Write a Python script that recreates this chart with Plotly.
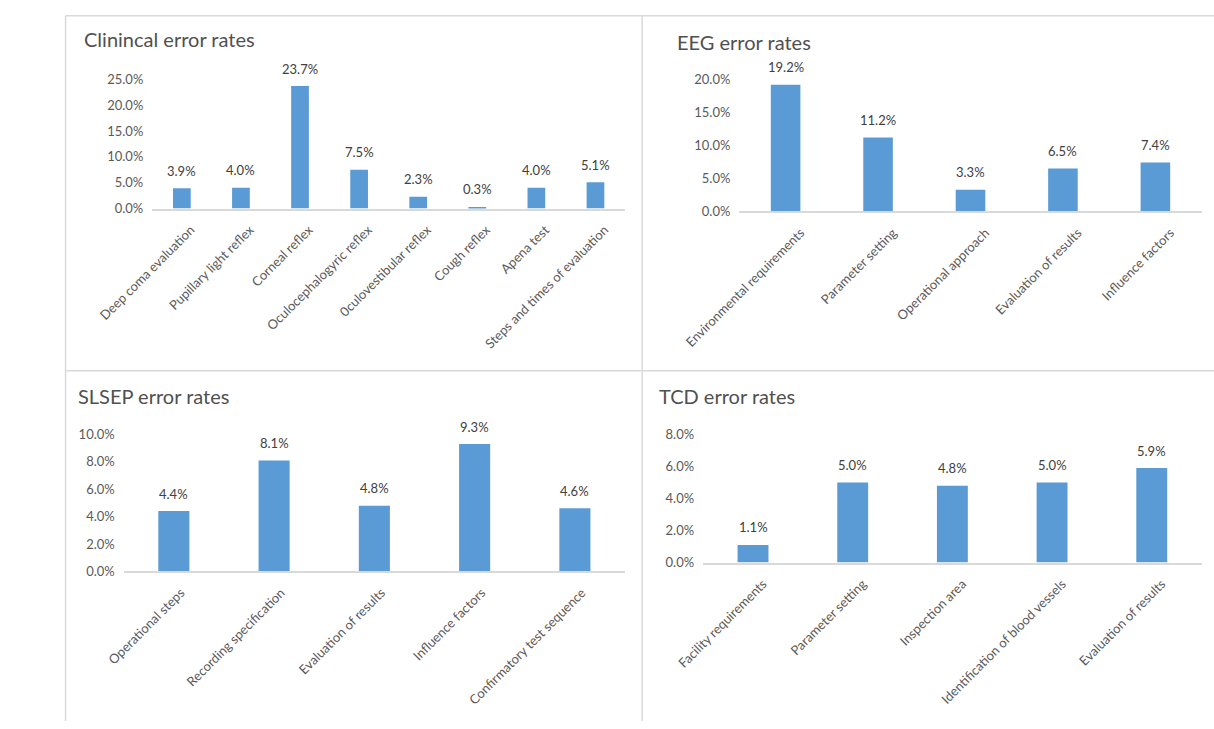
import plotly.graph_objects as go

W, H = 1214, 729

# ---------------- data ----------------
clin_cats = ["Deep coma evaluation", "Pupillary light reflex", "Corneal reflex",
             "Oculocephalogyric reflex", "0culovestibular reflex", "Cough reflex",
             "Apena test", "Steps and times of evaluation"]
clin_vals = [3.9, 4.0, 23.7, 7.5, 2.3, 0.3, 4.0, 5.1]

eeg_cats = ["Environmental requirements", "Parameter setting", "Operational approach",
            "Evaluation of results", "Influence factors"]
eeg_vals = [19.2, 11.2, 3.3, 6.5, 7.4]

slsep_cats = ["Operational steps", "Recording specification", "Evaluation of results",
              "Influence factors", "Confirmatory test sequence"]
slsep_vals = [4.4, 8.1, 4.8, 9.3, 4.6]

tcd_cats = ["Facility requirements", "Parameter setting", "Inspection area",
            "Identification of blood vessels", "Evaluation of results"]
tcd_vals = [1.1, 5.0, 4.8, 5.0, 5.9]

titles = ["Clinincal error rates", "EEG error rates", "SLSEP error rates", "TCD error rates"]

# ---------------- layout helpers ----------------
def px_x(v):
    return v / W

def px_y(v):
    return 1 - v / H

FONT = "Lato, 'Open Sans', sans-serif"
BAR = "#5b9bd5"
TICK_C = "#595959"
LBL_C = "#404040"

panels = [
    dict(cats=clin_cats, vals=clin_vals, x0=100, x1=596, yt=73, yb=205, ymax=25, dt=5,
         tx=26, ty=32, shift=9, bw=0.30),
    dict(cats=eeg_cats, vals=eeg_vals, x0=716, x1=1201, yt=73, yb=208, ymax=20, dt=5,
         tx=648, ty=35, shift=15, bw=0.32),
    dict(cats=slsep_cats, vals=slsep_vals, x0=70, x1=596, yt=436, yb=576, ymax=10, dt=2,
         tx=20, ty=397, shift=7, bw=0.31),
    dict(cats=tcd_cats, vals=tcd_vals, x0=678, x1=1201, yt=436, yb=567, ymax=8, dt=2,
         tx=630, ty=397, shift=10, bw=0.31),
]

fig = go.Figure()
annotations = []
layout_axes = {}

for i, p in enumerate(panels):
    n = i + 1
    xa = "x" if n == 1 else f"x{n}"
    ya = "y" if n == 1 else f"y{n}"
    xkey = "xaxis" if n == 1 else f"xaxis{n}"
    ykey = "yaxis" if n == 1 else f"yaxis{n}"

    fig.add_trace(go.Bar(
        x=p["cats"], y=p["vals"], xaxis=xa, yaxis=ya,
        marker=dict(color=BAR, line=dict(width=0)),
        width=p["bw"], showlegend=False, hoverinfo="x+y",
    ))

    layout_axes[xkey] = dict(
        domain=[px_x(p["x0"]), px_x(p["x1"])],
        anchor=ya, type="category",
        showline=True, linecolor="#d9d9d9", linewidth=1.5,
        showgrid=False, zeroline=False, ticks="",
        tickangle=-45, ticklabelshift=p["shift"], ticklabelstandoff=7,
        tickfont=dict(family=FONT, size=13, color=TICK_C),
    )
    layout_axes[ykey] = dict(
        domain=[px_y(p["yb"]), px_y(p["yt"])],
        anchor=xa, range=[0, p["ymax"]], dtick=p["dt"], tick0=0,
        tickformat=".1f", ticksuffix="%",
        showline=False, showgrid=False, zeroline=False, ticks="",
        ticklabelstandoff=8,
        tickfont=dict(family=FONT, size=13, color=TICK_C),
    )

    for c, v in zip(p["cats"], p["vals"]):
        annotations.append(dict(
            x=c, y=v, xref=xa, yref=ya, text=f"{v:.1f}%", showarrow=False,
            yanchor="middle", yshift=17.5,
            font=dict(family=FONT, size=13, color=LBL_C),
        ))

    annotations.append(dict(
        x=px_x(p["tx"]), y=px_y(p["ty"]), xref="paper", yref="paper",
        text=titles[i], showarrow=False, xanchor="left", yanchor="middle",
        font=dict(family=FONT, size=20, color="#505050"),
    ))

BORDER = "#d9d9d9"
shapes = [
    dict(type="line", xref="paper", yref="paper", x0=px_x(9), x1=1, y0=px_y(8), y1=px_y(8),
         line=dict(color=BORDER, width=1.5)),
    dict(type="line", xref="paper", yref="paper", x0=px_x(9), x1=px_x(9), y0=px_y(8), y1=0,
         line=dict(color=BORDER, width=1.5)),
    dict(type="line", xref="paper", yref="paper", x0=px_x(614), x1=px_x(614), y0=px_y(8), y1=0,
         line=dict(color=BORDER, width=1.5)),
    dict(type="line", xref="paper", yref="paper", x0=px_x(9), x1=1, y0=px_y(371), y1=px_y(371),
         line=dict(color=BORDER, width=1.5)),
]

fig.update_layout(
    width=W, height=H, autosize=False,
    margin=dict(l=0, r=0, t=0, b=0),
    paper_bgcolor="white", plot_bgcolor="white",
    annotations=annotations, shapes=shapes,
    font=dict(family=FONT),
    **layout_axes,
)

fig.write_html("out.html")
